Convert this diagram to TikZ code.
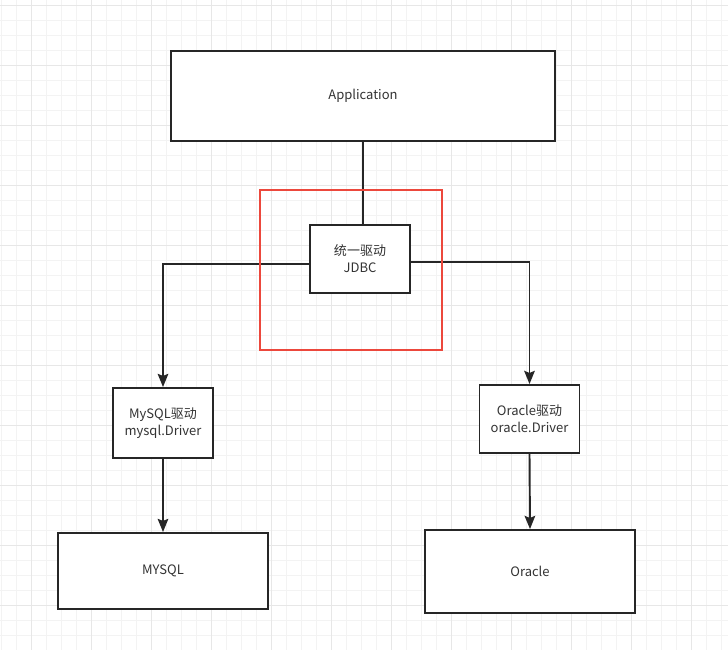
\documentclass[tikz,border=0pt]{standalone}
\usepackage{fontspec}
\setmainfont{Noto Sans CJK SC}
\usepackage{xcolor}
\definecolor{gridminor}{RGB}{243,243,243}
\definecolor{gridmajor}{RGB}{231,231,231}
\definecolor{boxline}{RGB}{38,38,38}
\definecolor{boxtext}{RGB}{51,51,51}
\definecolor{hlred}{RGB}{236,72,60}
\usetikzlibrary{arrows.meta, positioning}

\tikzset{
  dbox/.style={draw=boxline, line width=1.1pt, fill=white, inner sep=0pt,
    align=center, text=boxtext, font=\fontsize{7.4pt}{9.6pt}\selectfont},
  link/.style={draw=boxline, line width=1.1pt},
  arrowlink/.style={link, -{Stealth[length=7.5pt, width=6pt, inset=1.2pt]}},
}

\begin{document}
\begin{tikzpicture}[x=0.02cm, y=-0.02cm]
  \useasboundingbox (0,0) rectangle (728,650);
  % Background grid
  \fill[white] (0,0) rectangle (728,650);
  \foreach \k in {0,...,48} {
    \draw[gridminor, line width=0.45pt] (1.7+15*\k,0) -- (1.7+15*\k,650);
  }
  \foreach \k in {0,...,43} {
    \draw[gridminor, line width=0.45pt] (0,5+15*\k) -- (728,5+15*\k);
  }
  \foreach \k in {0,...,12} {
    \draw[gridmajor, line width=0.5pt] (31.7+60*\k,0) -- (31.7+60*\k,650);
  }
  \foreach \k in {0,...,10} {
    \draw[gridmajor, line width=0.5pt] (0,5+60*\k) -- (728,5+60*\k);
  }

  % Boxes
  \node[dbox, minimum width=7.68cm, minimum height=1.8cm] (app) at (363,96) {Application};
  \node[dbox, minimum width=2cm, minimum height=1.36cm] (jdbc) at (360,259) {统一驱动\\JDBC};
  \node[dbox, minimum width=2cm, minimum height=1.4cm] (mydrv) at (163,423) {MySQL驱动\\mysql.Driver};
  \node[dbox, minimum width=2cm, minimum height=1.36cm] (ordrv) at (529.5,419) {Oracle驱动\\oracle.Driver};
  \node[dbox, minimum width=4.2cm, minimum height=1.52cm] (mysql) at (163,571) {MYSQL};
  \node[dbox, minimum width=4.2cm, minimum height=1.66cm] (oracle) at (530,571.5) {Oracle};

  % Connectors
  \draw[link] (app.south) -- (app.south |- jdbc.north);
  \draw[arrowlink] ([yshift=-2.6pt]jdbc.west) -| (mydrv.north);
  \draw[arrowlink] ([yshift=-1.5pt]jdbc.east) -| (ordrv.north);
  \draw[arrowlink] (mydrv.south) -- (mysql.north);
  \draw[arrowlink] (ordrv.south) -- (oracle.north);

  % Highlight around JDBC
  \draw[hlred, line width=1.2pt] (260,190) rectangle (442,350);
\end{tikzpicture}
\end{document}
